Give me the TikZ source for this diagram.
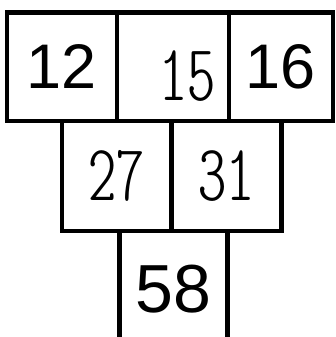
\documentclass[tikz,border=0pt]{standalone}
\usepackage{fontspec}
\setmainfont{Liberation Sans}
\newfontfamily\hand{lmmonoltcond10-regular.otf}
\begin{document}
\begin{tikzpicture}[x=1pt,y=-1pt,
    cell/.style={draw, line width=4.8pt, inner sep=0pt, minimum height=108.5pt},
    typed/.style={font=\fontsize{#1}{#1}\selectfont}, typed/.default=63,
    hand/.style={font=\hand\fontsize{80}{80}\selectfont}]
  \useasboundingbox (0,0) rectangle (335,337);
  % top row
  \node[cell, typed, minimum width=110pt] (box12) at (62,66.75) {12};
  \node[cell, minimum width=112pt] (box15) at (173,66.75) {};
  \node[cell, typed, minimum width=104pt] (box16) at (281,66.75) {16};
  \node[hand] (num15) at ([xshift=14pt,yshift=-9pt]box15.center) {15};
  % middle row
  \node[cell, hand, minimum width=109.5pt, minimum height=110pt] (box27) at (116.75,176) {27};
  \node[cell, hand, minimum width=110pt, minimum height=110pt] (box31) at (226.5,176) {31};
  % bottom row, open at the page edge
  \node[typed=68, inner sep=0pt, minimum width=108pt, minimum height=116pt] (box58) at (173.5,289) {58};
  \draw[line width=4.8pt] (box58.north west) -- (box58.south west)
    (box58.north east) -- (box58.south east);
\end{tikzpicture}
\end{document}
